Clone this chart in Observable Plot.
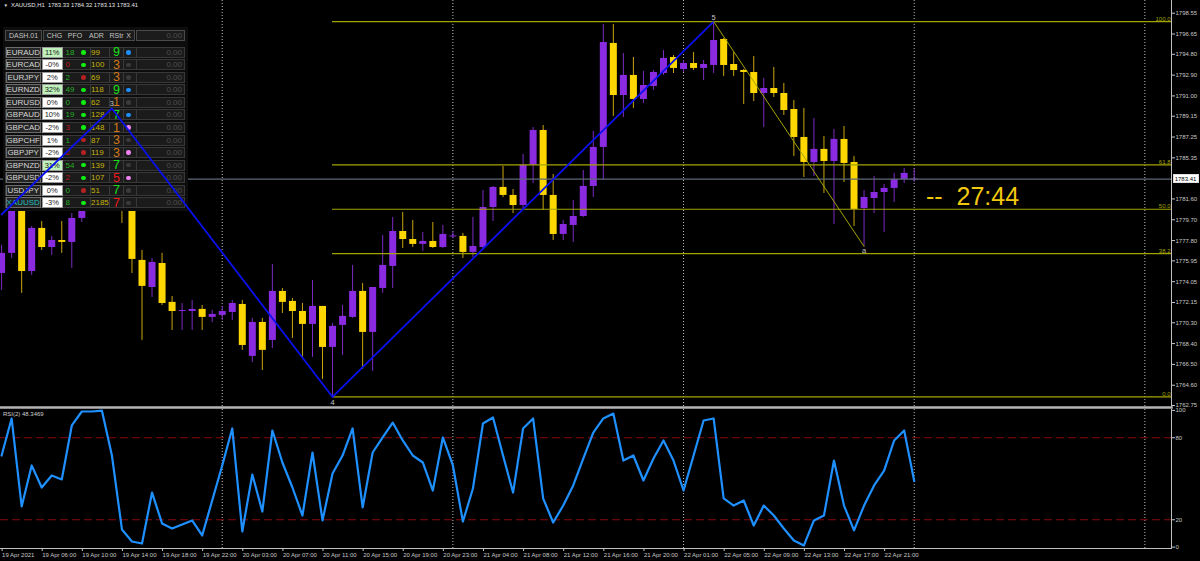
<!DOCTYPE html>
<html>
<head>
<meta charset="utf-8">
<script src="https://cdn.jsdelivr.net/npm/d3@7"></script>
<script src="https://cdn.jsdelivr.net/npm/@observablehq/plot@0.6"></script>
<style>
html,body{margin:0;padding:0;background:#000;}
#wrap{position:relative;width:1200px;height:561px;background:#000;overflow:hidden;font-family:"Liberation Sans",Arial,sans-serif;}
.abs{position:absolute;box-sizing:border-box;white-space:pre;line-height:1;}
.cell{position:absolute;box-sizing:border-box;white-space:pre;display:flex;align-items:center;overflow:visible;}
</style>
</head>
<body>
<div id="wrap"></div>
<script>
// ---------------- DATA ----------------
const symbolName = "XAUUSD,H1";
const open = [1774.80,1776.63,1780.82,1774.98,1778.91,1777.17,1777.81,1777.63,1779.82,1781.92,
1785.11,1788.30,1784.66,1781.00,1775.99,1773.52,1775.71,1772.16,1771.33,1771.33,
1771.52,1770.79,1770.97,1771.24,1771.97,1767.23,1770.33,1768.69,1773.16,1772.25,
1771.33,1770.15,1771.79,1768.05,1770.06,1770.79,1773.16,1769.42,1773.43,1775.44,
1778.63,1777.90,1777.45,1777.72,1777.17,1778.13,1778.18,1776.72,1777.17,1780.82,
1782.65,1781.92,1781.00,1784.66,1787.85,1781.92,1778.36,1779.18,1780.00,1782.74,
1786.30,1795.79,1791.04,1792.87,1790.68,1791.86,1793.05,1794.51,1793.41,1793.96,
1793.51,1793.78,1796.15,1793.87,1793.32,1793.14,1791.22,1791.68,1791.22,1789.76,
1787.21,1784.93,1786.12,1785.02,1787.03,1784.93,1780.73,1781.64,1782.19,1782.56,
1783.38,1783.33];
const high = [1777.36,1781.46,1781.19,1779.09,1779.54,1778.18,1779.54,1780.27,1782.37,1786.02,
1789.22,1789.86,1785.11,1781.46,1776.90,1776.17,1776.63,1772.70,1772.06,1772.34,
1771.88,1771.42,1771.79,1772.34,1772.34,1770.70,1770.70,1775.62,1773.43,1772.52,
1772.06,1774.16,1771.79,1770.24,1771.88,1775.53,1773.89,1773.52,1778.27,1779.91,
1780.37,1779.64,1778.54,1779.45,1779.18,1778.63,1778.45,1779.91,1782.37,1782.74,
1784.56,1782.46,1785.66,1788.12,1788.30,1783.83,1779.64,1781.46,1784.20,1787.76,
1797.52,1797.52,1794.87,1794.51,1793.23,1793.32,1795.15,1794.69,1794.24,1794.96,
1794.24,1797.79,1796.24,1794.96,1793.41,1794.60,1792.59,1793.60,1792.14,1790.59,
1789.86,1788.94,1787.30,1787.94,1788.21,1785.48,1782.37,1783.65,1782.92,1783.93,
1784.38,1784.32];
const low = [1773.25,1776.17,1772.98,1774.62,1776.90,1776.44,1776.63,1775.26,1779.45,1781.46,
1784.66,1784.20,1779.36,1774.80,1768.69,1772.61,1771.88,1769.60,1769.60,1769.60,
1769.60,1770.33,1770.51,1770.51,1767.78,1766.68,1765.95,1767.96,1771.15,1768.87,
1767.14,1767.14,1765.13,1763.53,1767.32,1770.70,1766.04,1765.86,1772.98,1773.43,
1777.08,1777.17,1776.81,1777.08,1777.08,1777.99,1776.17,1776.26,1776.99,1779.54,
1781.73,1780.27,1780.55,1783.01,1780.55,1777.81,1777.81,1777.63,1779.91,1781.73,
1783.29,1789.13,1789.03,1789.86,1790.31,1791.50,1792.87,1793.05,1793.14,1793.32,
1792.41,1793.05,1792.78,1792.78,1790.22,1790.49,1788.12,1790.86,1789.22,1785.48,
1783.56,1783.65,1782.10,1779.27,1783.10,1779.09,1777.26,1780.27,1778.54,1781.28,
1783.01,1783.13];
const close = [1776.63,1780.82,1774.98,1778.91,1777.17,1777.81,1777.63,1779.82,1781.92,1785.11,
1788.30,1784.66,1781.00,1776.08,1773.62,1775.81,1772.06,1771.33,1771.42,1771.52,
1770.79,1771.06,1771.33,1772.06,1768.23,1770.33,1767.78,1773.16,1772.16,1771.33,
1770.15,1771.79,1768.05,1769.97,1770.88,1773.16,1769.42,1773.52,1775.53,1778.63,
1777.90,1777.45,1777.72,1777.17,1778.36,1778.18,1776.72,1777.26,1780.82,1782.65,
1781.92,1781.00,1784.66,1787.85,1781.92,1778.36,1779.27,1780.00,1782.74,1786.30,
1795.88,1791.04,1792.87,1790.68,1791.95,1793.14,1794.42,1793.51,1793.96,1793.51,
1793.87,1796.06,1793.78,1793.32,1793.14,1791.22,1791.68,1791.22,1789.67,1787.21,
1784.93,1786.12,1785.02,1787.03,1784.84,1780.64,1781.73,1782.19,1782.56,1783.38,
1783.93,1783.41];
const rsi = [67.0,94.1,29.7,59.7,43.6,52.4,49.5,89.0,99.2,99.2,
99.9,67.0,12.9,4.1,2.6,39.9,17.3,13.6,16.5,19.5,
8.5,34.1,59.7,86.8,11.4,53.1,26.0,85.3,61.9,43.6,
23.1,69.2,19.5,53.8,67.0,86.8,29.0,69.2,80.2,91.1,
78.0,67.0,61.9,41.4,80.2,59.7,18.7,42.9,90.4,94.8,
67.0,39.9,86.8,94.1,35.6,18.0,30.4,45.1,64.8,83.8,
94.1,97.7,63.3,67.0,48.7,64.8,78.0,63.3,41.4,67.0,
92.6,94.1,35.6,30.4,34.1,15.8,30.4,23.1,13.6,4.8,
1.2,19.5,23.1,63.3,30.4,12.2,30.4,45.1,56.0,78.0,
85.3,48.35];
const rsiLabel = "RSI(2) 48.3469";
const priceTicks = [1798.55,1796.65,1794.80,1792.90,1791.00,1789.15,1787.25,1785.35,1781.60,1779.70,1777.80,1775.95,1774.05,1772.15,1770.30,1768.40,1766.50,1764.60,1762.75];
const rsiTicks = [100,80,20,0];
const rsiLevels = [80,20];
const timeTickBars = [0,4,8,12,16,20,24,28,32,36,40,44,48,52,56,60,64,68,72,76,80,84,88];
const timeTickLabels = ["19 Apr 2021","19 Apr 06:00","19 Apr 10:00","19 Apr 14:00","19 Apr 18:00","19 Apr 22:00","20 Apr 03:00","20 Apr 07:00","20 Apr 11:00","20 Apr 15:00","20 Apr 19:00","20 Apr 23:00","21 Apr 04:00","21 Apr 08:00","21 Apr 12:00","21 Apr 16:00","21 Apr 20:00","22 Apr 01:00","22 Apr 05:00","22 Apr 09:00","22 Apr 13:00","22 Apr 17:00","22 Apr 21:00"];
const daySeparatorBars = [22,45,68,91,114];
const fibLevels = [0,38.2,50,61.8,100];
const fibLowPrice = 1763.53, fibHighPrice = 1797.79, fibStartBar = 33, fibEndBar = 140;
const waveBars = [0,11,33,71];
const waveValues = [1780.18,1789.86,1763.53,1797.79];
const waveLabels = ["","3","4","5"];
const wave2Bars = [71,86];
const wave2Values = [1797.79,1777.26];
const wave2Labels = ["","a"];
const timerText = "--  27:44";
// dashboard
const dashTitle = "DASH.01";
const dashHeaders = ["CHG","PFO","ADR","RStr","X"];
const dashSymbols = ["EURAUD","EURCAD","EURJPY","EURNZD","EURUSD","GBPAUD","GBPCAD","GBPCHF","GBPJPY","GBPNZD","GBPUSD","USDJPY","XAUUSD"];
const dashChg = ["11%","-0%","2%","32%","0%","10%","-2%","1%","-2%","31%","-2%","0%","-3%"];
const dashChgStrong = [1,0,0,1,0,0,0,0,0,1,0,0,0];
const dashPfo = [18,0,2,49,0,19,3,1,2,54,2,0,8];
const dashPfoUp = [1,0,1,1,1,1,0,1,0,1,0,1,1];
const dashPfoDot = ["g","g","r","g","g","g","g","r","r","g","g","r","g"];
const dashAdr = [99,100,69,118,62,128,148,87,119,139,107,51,2185];
const dashRstr = [9,3,3,9,1,7,1,3,3,7,5,7,7];
const dashRstrCls = ["g","o","o","g","o","g","o","o","o","g","r","g","r"];
const dashX = ["b","n","n","b","n","b","p","n","p","n","p","n","n"];
const dashValue = "0.00";

// ---------------- STYLE ----------------
const BULL = "#8a2be2", BEAR = "#ffd700", BULL_WICK = "#7b2bc4", BEAR_WICK = "#c9a50c";
const FIB = "#a3a300", SEP = "#bdbdbd", AXIS = "#c8c8c8";
const FONT = "'Liberation Sans', Arial, sans-serif";
const wrap = document.getElementById("wrap");
const N = open.length;
const idx = d3.range(N);
const bullIdx = idx.filter(i => close[i] >= open[i]);
const bearIdx = idx.filter(i => close[i] < open[i]);
const bodyEnd = i => Math.abs(close[i] - open[i]) < 0.08 ? open[i] + (close[i] >= open[i] ? 0.09 : -0.09) : close[i];
const fibPrice = r => fibLowPrice + r / 100 * (fibHighPrice - fibLowPrice);

const X = {domain: [0, 91], range: [1.1, 913.7]};
const YP = {domain: [1762.75, 1798.55], range: [405, 12.7]};
const svgStyle = {background: "transparent", color: AXIS, fontFamily: FONT, fontSize: "6px", overflow: "visible", position: "absolute", left: "0px", top: "0px", maxWidth: "none"};

const mainPlot = Plot.plot({
  width: 1200, height: 561, marginLeft: 0, marginRight: 29, marginTop: 0, marginBottom: 154,
  x: {...X, axis: null}, y: {...YP, axis: null},
  style: svgStyle,
  marks: [
    Plot.ruleX(daySeparatorBars, {x: d => d, stroke: SEP, strokeDasharray: "1,2"}),
    Plot.ruleX(bullIdx, {x: i => i, y1: i => low[i], y2: i => high[i], stroke: BULL_WICK}),
    Plot.ruleX(bearIdx, {x: i => i, y1: i => low[i], y2: i => high[i], stroke: BEAR_WICK}),
    Plot.ruleX(bullIdx, {x: i => i, y1: i => open[i], y2: bodyEnd, stroke: BULL, strokeWidth: 7}),
    Plot.ruleX(bearIdx, {x: i => i, y1: i => open[i], y2: bodyEnd, stroke: BEAR, strokeWidth: 7}),
    Plot.ruleY(fibLevels, {y: fibPrice, x1: () => fibStartBar, x2: () => fibEndBar, clip: true, stroke: FIB, strokeWidth: 1.2}),
    Plot.text(fibLevels, {y: fibPrice, text: r => r.toFixed(1), frameAnchor: "right", textAnchor: "end", lineAnchor: "bottom", dx: -1, dy: -1, fill: FIB, fontSize: 6}),
    Plot.ruleY([close[N - 1]], {stroke: "#5e6a76", strokeWidth: 1.2}),
    Plot.axisY(priceTicks, {anchor: "right", tickSize: 3, tickPadding: 1, fontSize: 6, tickFormat: d => d.toFixed(2)}),
    Plot.frame({anchor: "right", stroke: "#c0c0c0"}),
    Plot.frame({anchor: "bottom", stroke: "#b4b4b4", strokeWidth: 2.5})
  ]
});
wrap.appendChild(mainPlot);

// ---------------- DASHBOARD ----------------
const dash = document.createElement("div");
dash.style.cssText = "position:absolute;left:0;top:0;";
wrap.appendChild(dash);
function cell(l, t, w, h, o = {}) {
  const d = document.createElement("div");
  d.className = "cell";
  d.style.left = l + "px"; d.style.top = t + "px"; d.style.width = w + "px"; d.style.height = h + "px";
  if (o.bg) d.style.background = o.bg;
  if (o.border) d.style.border = "1px solid " + o.border;
  if (o.color) d.style.color = o.color;
  d.style.fontSize = (o.size || 8) + "px";
  d.style.justifyContent = o.align || "center";
  if (o.radius) d.style.borderRadius = o.radius;
  if (o.pad) d.style.padding = o.pad;
  if (o.text != null) d.textContent = o.text;
  dash.appendChild(d);
  return d;
}
cell(3, 27, 185, 184, {bg: "#0d0d0d"});
cell(5, 30, 37, 11, {bg: "#1c1c1c", border: "#4a4a4a", color: "#c4c4c4", size: 7, text: dashTitle});
cell(42.7, 30, 92.5, 11, {bg: "#1c1c1c", border: "#4a4a4a"});
cell(136, 30, 49, 11, {bg: "#1c1c1c", border: "#4a4a4a", color: "#4e4e4e", size: 8, align: "flex-end", pad: "0 2px 0 0", text: dashValue});
const headerCenters = [54.5, 75, 96.5, 116.5, 128.5];
dashHeaders.forEach((h, k) => cell(headerCenters[k] - 12, 30, 24, 11, {color: "#c4c4c4", size: 7, text: h}));
const pfoCol = {up: "#22b022", dn: "#c01a1a"};
const dotCol = {g: "#10ee10", r: "#b42222"};
const rstrCol = {g: "#18e018", o: "#d07818", r: "#f01818"};
const xCol = {b: "#1e8fff", n: "#3a3a3a", p: "#ee82ee"};
dashSymbols.forEach((s, r) => {
  const t = 46.7 + 12.55 * r;
  cell(5, t, 180, 11, {bg: "#1b1b1b", border: "#383838"});
  cell(5.7, t, 35, 11, {bg: "#262626", border: "#6c6c6c", color: s === "XAUUSD" ? "#22bcbc" : "#d6d6d6", size: 8, text: s});
  cell(41.7, t, 21, 11, {bg: dashChgStrong[r] ? "#bff2bb" : "#ffffff", border: "#9a9a9a", color: "#1a1a1a", size: 7.5, text: dashChg[r]});
  cell(65.5, t, 14, 11, {color: dashPfoUp[r] ? pfoCol.up : pfoCol.dn, size: 8, align: "flex-start", text: String(dashPfo[r])});
  cell(81.2, t + 3.3, 4.5, 4.5, {bg: dotCol[dashPfoDot[r]], radius: "50%"});
  cell(89.6, t, 1, 11, {bg: "#3a3a3a"});
  cell(109.4, t, 1, 11, {bg: "#3a3a3a"});
  cell(122.6, t, 1, 11, {bg: "#3a3a3a"});
  cell(91, t, 19, 11, {color: "#c8b40c", size: 8, align: "flex-start", text: String(dashAdr[r])});
  cell(110.5, t, 12, 11, {color: rstrCol[dashRstrCls[r]], size: 12.5, text: String(dashRstr[r])});
  cell(126.1, t + 3.3, 4.5, 4.5, {bg: xCol[dashX[r]], radius: "50%"});
  cell(136, t, 49, 11, {bg: "#1b1b1b", border: "#383838", color: "#4e4e4e", size: 8, align: "flex-end", pad: "0 2px 0 0", text: dashValue});
});

// ---------------- OVERLAY (wave lines) ----------------
const overlay = Plot.plot({
  width: 1200, height: 561, marginLeft: 0, marginRight: 29, marginTop: 0, marginBottom: 154,
  x: {...X, axis: null}, y: {...YP, axis: null},
  style: svgStyle,
  marks: [
    Plot.line(waveBars.map((b, k) => k), {x: k => waveBars[k], y: k => waveValues[k], stroke: "#0a10ee", strokeWidth: 1.8}),
    Plot.line(wave2Bars.map((b, k) => k), {x: k => wave2Bars[k], y: k => wave2Values[k], stroke: FIB, strokeWidth: 1}),
    Plot.text([1, 3], {x: k => waveBars[k], y: k => waveValues[k], text: k => waveLabels[k], lineAnchor: "bottom", dy: -2, fill: "#c4c4c4", fontSize: 7.5}),
    Plot.text([2], {x: k => waveBars[k], y: k => waveValues[k], text: k => waveLabels[k], lineAnchor: "top", dy: 2.5, fill: "#c4c4c4", fontSize: 7.5}),
    Plot.text([1], {x: k => wave2Bars[k], y: k => wave2Values[k], text: k => wave2Labels[k], lineAnchor: "top", dy: 1.5, fill: "#c4c4c4", fontSize: 7.5})
  ]
});
wrap.appendChild(overlay);

// ---------------- RSI PANEL ----------------
const rsiPlot = Plot.plot({
  width: 1200, height: 561, marginLeft: 0, marginRight: 29, marginTop: 409, marginBottom: 13,
  x: {...X, axis: null}, y: {domain: [0, 100], range: [546.6, 409.9], axis: null},
  style: svgStyle,
  marks: [
    Plot.ruleX(daySeparatorBars, {x: d => d, stroke: SEP, strokeDasharray: "1,2"}),
    Plot.ruleY(rsiLevels, {stroke: "#8b0a0a", strokeDasharray: "8,4", strokeWidth: 1.2}),
    Plot.line(idx, {x: i => i, y: i => rsi[i], stroke: "#1e90ff", strokeWidth: 2.2}),
    Plot.axisY(rsiTicks, {anchor: "right", tickSize: 3, tickPadding: 1, fontSize: 6}),
    Plot.axisX(timeTickBars, {anchor: "bottom", tickSize: 3, tickPadding: 1, fontSize: 6, textAnchor: "start", dx: 0.5, tickFormat: d => timeTickLabels[timeTickBars.indexOf(d)]}),
    Plot.frame({anchor: "right", stroke: "#c0c0c0"}),
    Plot.frame({anchor: "bottom", stroke: "#c0c0c0"})
  ]
});
wrap.appendChild(rsiPlot);

// ---------------- TEXT OVERLAYS ----------------
function txt(l, t, s, css) {
  const d = document.createElement("div");
  d.className = "abs";
  d.style.left = l + "px"; d.style.top = t + "px";
  Object.assign(d.style, css);
  d.textContent = s;
  wrap.appendChild(d);
  return d;
}
const last = N - 1;
txt(3.5, 3.5, "\u25BC", {fontSize: "4.5px", color: "#e0e0e0"});
txt(11, 3.2, `${symbolName}  ${open[last].toFixed(2)} ${high[last].toFixed(2)} ${low[last].toFixed(2)} ${close[last].toFixed(2)}`, {fontSize: "5.9px", color: "#e4e4e4"});
txt(3, 410.5, rsiLabel, {fontSize: "6px", color: "#d0d0d0"});
txt(926, 183.8, timerText, {fontSize: "25px", color: "#f2c80f"});
const yBid = mainPlot.scale("y").apply(close[last]);
txt(1172.5, yBid - 4.5, close[last].toFixed(2), {fontSize: "6px", color: "#000", background: "#fff", width: "26px", height: "9px", lineHeight: "9px", textAlign: "center", border: "1px solid #ddd"});
</script>
</body>
</html>
